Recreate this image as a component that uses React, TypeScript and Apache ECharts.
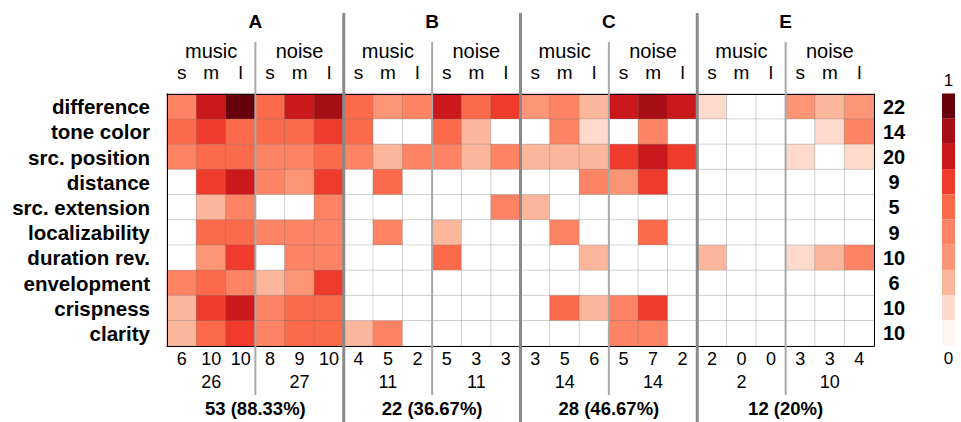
import React, { useEffect, useRef } from 'react';
import * as echarts from 'echarts';

// ---- data ----
const rows = ['difference', 'tone color', 'src. position', 'distance', 'src. extension', 'localizability', 'duration rev.', 'envelopment', 'crispness', 'clarity'];
const rowCounts = ['22', '14', '20', '9', '5', '9', '10', '6', '10', '10'];
const groups = ['A', 'B', 'C', 'E'];
const stimuli = ['music', 'noise'];
const sizes = ['s', 'm', 'l'];
const colCounts = [6, 10, 10, 8, 9, 10, 4, 5, 2, 5, 3, 3, 3, 5, 6, 5, 7, 2, 2, 0, 0, 3, 3, 4];
const halfSums = [26, 27, 11, 11, 14, 14, 2, 10];
const groupTotals = ['53 (88.33%)', '22 (36.67%)', '28 (46.67%)', '12 (20%)'];

// values per row, columns: A(music s m l, noise s m l), B(...), C(...), E(...)
const difference = [0.45, 0.75, 0.95, 0.55, 0.75, 0.85, 0.55, 0.35, 0.45, 0.75, 0.55, 0.65, 0.35, 0.45, 0.25, 0.75, 0.85, 0.75, 0.15, 0, 0, 0.35, 0.25, 0.35];
const toneColor = [0.55, 0.65, 0.55, 0.55, 0.55, 0.65, 0.55, 0, 0, 0.55, 0.25, 0, 0, 0.45, 0.15, 0, 0.45, 0, 0, 0, 0, 0, 0.15, 0.45];
const srcPosition = [0.45, 0.55, 0.55, 0.45, 0.45, 0.55, 0.45, 0.25, 0.45, 0.45, 0.25, 0.45, 0.25, 0.25, 0.25, 0.65, 0.75, 0.65, 0, 0, 0, 0.15, 0, 0.15];
const distance = [0, 0.65, 0.75, 0.45, 0.35, 0.65, 0, 0.55, 0, 0, 0, 0, 0, 0, 0.45, 0.35, 0.65, 0, 0, 0, 0, 0, 0, 0];
const srcExtension = [0, 0.25, 0.45, 0, 0, 0.45, 0, 0, 0, 0, 0, 0.45, 0.25, 0, 0, 0, 0, 0, 0, 0, 0, 0, 0, 0];
const localizability = [0, 0.55, 0.55, 0.45, 0.45, 0.45, 0, 0.45, 0, 0.25, 0, 0, 0, 0.45, 0, 0, 0.55, 0, 0, 0, 0, 0, 0, 0];
const durationRev = [0, 0.35, 0.65, 0, 0.45, 0.45, 0, 0, 0, 0.55, 0, 0, 0, 0, 0.25, 0, 0, 0, 0.25, 0, 0, 0.15, 0.25, 0.45];
const envelopment = [0.45, 0.55, 0.45, 0.25, 0.35, 0.65, 0, 0, 0, 0, 0, 0, 0, 0, 0, 0, 0, 0, 0, 0, 0, 0, 0, 0];
const crispness = [0.25, 0.65, 0.75, 0.45, 0.55, 0.55, 0, 0, 0, 0, 0, 0, 0, 0.55, 0.25, 0.45, 0.65, 0, 0, 0, 0, 0, 0, 0];
const clarity = [0.25, 0.55, 0.65, 0.45, 0.55, 0.55, 0.25, 0.45, 0, 0, 0, 0, 0, 0, 0, 0.45, 0.45, 0, 0, 0, 0, 0, 0, 0];
const cellValues = [difference, toneColor, srcPosition, distance, srcExtension, localizability, durationRev, envelopment, crispness, clarity];

const levelColors = ['#fff5f0', '#fddacb', '#fcb69c', '#fc9576', '#fc8464', '#fb6b4b', '#ef3b2c', '#cb181d', '#a50f15', '#67000d'];

const W = 961;
const H = 422;
const GRID = { left: 167, right: 87, top: 94, bottom: 76 };
const FONT = '"Liberation Sans", Arial, Helvetica, sans-serif';

export default function App() {
  const ref = useRef<HTMLDivElement>(null);
  useEffect(() => {
    if (!ref.current) return;
    const chart = echarts.init(ref.current, null, { renderer: 'svg' });

    const colIds: string[] = [];
    groups.forEach(g => stimuli.forEach(s => sizes.forEach(z => colIds.push(`${g}|${s}|${z}`))));
    const halfIds: string[] = [];
    groups.forEach(g => stimuli.forEach(s => halfIds.push(`${g}|${s}`)));

    const data: any[] = [];
    cellValues.forEach((row, r) => row.forEach((v, c) => data.push([c, r, v])));

    const nCols = colIds.length;
    const colW = (W - GRID.left - GRID.right) / nCols;
    const perHalf = sizes.length;
    const perGroup = sizes.length * stimuli.length;
    const graphics: any[] = [];
    for (let k = perHalf; k < nCols; k += perHalf) {
      const x = GRID.left + k * colW;
      const isGroup = k % perGroup === 0;
      graphics.push({
        type: 'line',
        z: 100,
        shape: isGroup ? { x1: x, y1: 13, x2: x, y2: H } : { x1: x, y1: 42, x2: x, y2: 395 },
        style: { stroke: isGroup ? '#8a8a8a' : '#a9a9a9', lineWidth: isGroup ? 3 : 2 },
      });
    }

    const pieces = levelColors.map((c, i) => ({ gt: i / 10, lte: (i + 1) / 10, color: c }));

    const baseLabel = { color: '#000', fontFamily: FONT };
    const hidden = { axisLine: { show: false }, axisTick: { show: false }, splitLine: { show: false } };

    chart.setOption({
      animation: false,
      textStyle: { fontFamily: FONT },
      grid: { left: GRID.left, right: GRID.right, top: GRID.top, bottom: GRID.bottom },
      xAxis: [
        {
          type: 'category', data: colIds, position: 'bottom', z: 10,
          axisLine: { show: true, lineStyle: { color: '#000', width: 1 } },
          axisTick: { show: false }, splitLine: { show: false },
          axisLabel: { ...baseLabel, interval: 0, margin: 4, fontSize: 18, formatter: (_v: string, i: number) => String(colCounts[i]) },
        },
        {
          type: 'category', data: colIds, position: 'top', z: 10,
          axisLine: { show: true, lineStyle: { color: '#000', width: 1 } },
          axisTick: { show: false }, splitLine: { show: false },
          axisLabel: { ...baseLabel, interval: 0, margin: 12, fontSize: 19, formatter: (v: string) => v.split('|')[2] },
        },
        {
          type: 'category', data: halfIds, position: 'top', offset: 33, ...hidden,
          axisLabel: { ...baseLabel, interval: 0, margin: 0, fontSize: 20, formatter: (v: string) => v.split('|')[1] },
        },
        {
          type: 'category', data: groups, position: 'top', offset: 63, ...hidden,
          axisLabel: { ...baseLabel, interval: 0, margin: 0, fontSize: 19, fontWeight: 'bold' },
        },
        {
          type: 'category', data: halfIds, position: 'bottom', offset: 27, ...hidden,
          axisLabel: { ...baseLabel, interval: 0, margin: 0, fontSize: 18, formatter: (_v: string, i: number) => String(halfSums[i]) },
        },
        {
          type: 'category', data: groups, position: 'bottom', offset: 53, ...hidden,
          axisLabel: { ...baseLabel, interval: 0, margin: 0, fontSize: 18.5, fontWeight: 'bold', formatter: (_v: string, i: number) => groupTotals[i] },
        },
      ],
      yAxis: [
        {
          type: 'category', data: rows, inverse: true, position: 'left', z: 10,
          axisLine: { show: true, lineStyle: { color: '#000', width: 1 } },
          axisTick: { show: false }, splitLine: { show: false },
          axisLabel: { ...baseLabel, interval: 0, margin: 17, fontSize: 20.5, fontWeight: 'bold' },
        },
        {
          type: 'category', data: rows, inverse: true, position: 'right', z: 10,
          axisLine: { show: true, lineStyle: { color: '#000', width: 1 } },
          axisTick: { show: false }, splitLine: { show: false },
          axisLabel: { ...baseLabel, interval: 0, margin: 20, align: 'center', fontSize: 20, fontWeight: 'bold', formatter: (_v: string, i: number) => rowCounts[i] },
        },
      ],
      visualMap: {
        type: 'piecewise',
        seriesIndex: 0,
        pieces,
        outOfRange: { color: '#ffffff' },
        orient: 'vertical',
        left: 942,
        top: 67.5,
        padding: 0,
        itemWidth: 13,
        itemHeight: 25.2,
        itemGap: 0,
        itemSymbol: 'rect',
        selectedMode: false,
        text: ['1', '0'],
        textStyle: { color: '#000', fontSize: 17, lineHeight: 26, fontFamily: FONT },
      },
      series: [
        {
          type: 'heatmap',
          xAxisIndex: 0,
          yAxisIndex: 0,
          data,
          itemStyle: { borderColor: 'rgba(110,110,110,0.28)', borderWidth: 1 },
          emphasis: { disabled: true },
          label: { show: false },
        },
      ],
      graphic: graphics,
    });
    return () => chart.dispose();
  }, []);
  return <div ref={ref} style={{ position: 'absolute', left: 0, top: 0, width: W, height: H }} />;
}
